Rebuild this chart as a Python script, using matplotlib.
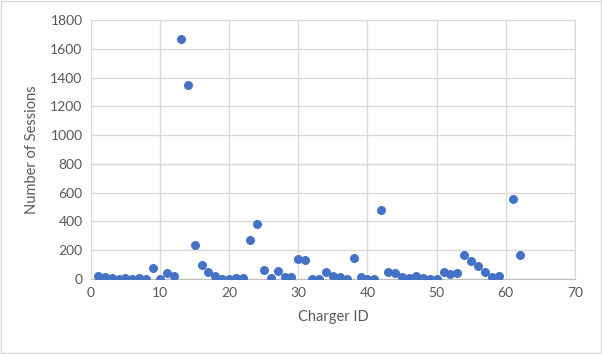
import matplotlib
matplotlib.use("Agg")
import matplotlib.pyplot as plt
from matplotlib.patches import Rectangle

charger_id = list(range(1, 60)) + [61, 62]
sessions = [23, 12, 7, 2, 5, 2, 10, 3, 74, 2,
            44, 19, 1668, 1350, 234, 95, 49, 23, 2, 2,
            10, 8, 273, 384, 65, 5, 56, 12, 12, 137,
            130, 2, 2, 46, 19, 14, 2, 148, 12, 2,
            2, 479, 46, 40, 16, 5, 19, 8, 2, 2,
            49, 37, 42, 164, 125, 90, 49, 12, 19,
            558, 169]

x_ticks = [0, 10, 20, 30, 40, 50, 60, 70]
y_ticks = [0, 200, 400, 600, 800, 1000, 1200, 1400, 1600, 1800]

plt.rcParams['font.family'] = ['Lato', 'DejaVu Sans']

fig = plt.figure(figsize=(6.02, 3.54), dpi=100)
ax = fig.add_axes([0.151, 0.2119, 0.804, 0.7316])
ax.scatter(charger_id, sessions, s=42, color='#4472C4', zorder=3, linewidths=0)
ax.set_xlim(0, 70)
ax.set_ylim(0, 1800)
ax.set_xticks(x_ticks)
ax.set_yticks(y_ticks)
ax.grid(True, color='#D9D9D9', linewidth=1)
ax.set_axisbelow(True)
for s in ['top', 'right', 'left']:
    ax.spines[s].set_color('#D9D9D9')
ax.spines['bottom'].set_color('#BFBFBF')
ax.tick_params(length=0, labelsize=10, labelcolor='#595959', pad=6)
ax.set_xlabel('Charger ID', fontsize=10.5, color='#595959', labelpad=8)
ax.set_ylabel('Number of Sessions', fontsize=10.5, color='#595959', labelpad=8)

fig.patches.append(Rectangle((0.002, 0.003), 0.996, 0.994, transform=fig.transFigure,
                             fill=False, edgecolor='#D9D9D9', linewidth=1))
fig.savefig('out.png', dpi=100)
